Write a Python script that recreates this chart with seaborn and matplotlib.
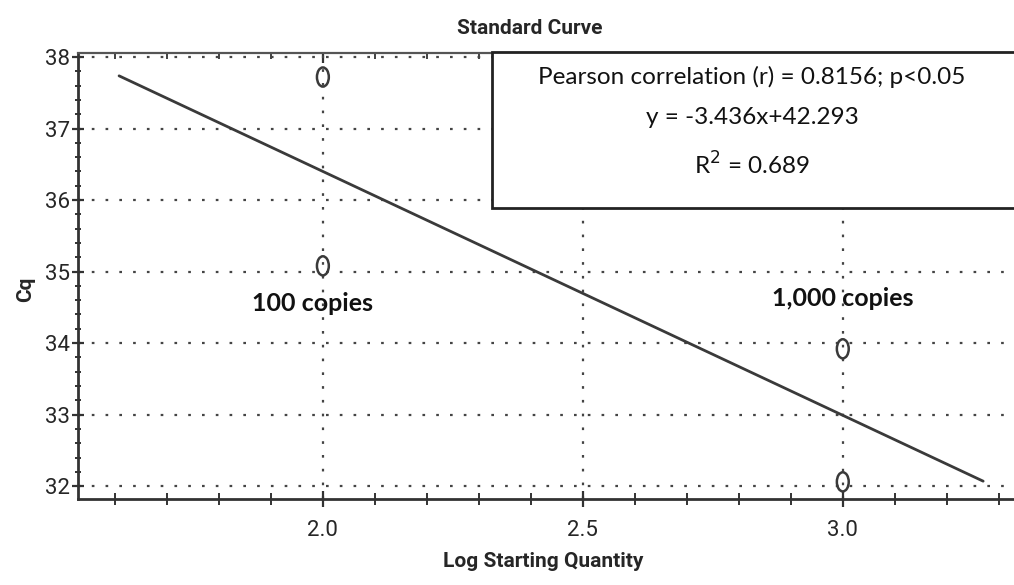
import numpy as np
import pandas as pd
import matplotlib
matplotlib.use("Agg")
import matplotlib.pyplot as plt
from matplotlib.path import Path
from matplotlib.patches import Rectangle
from matplotlib.ticker import MultipleLocator
import seaborn as sns

# Standard curve samples: log10 starting quantity vs. quantification cycle
log_quantity = [2.0, 2.0, 3.0, 3.0]
cq_values = [37.72, 35.08, 33.92, 32.06]
fit_x_range = [1.608, 3.27]

stats_lines = [
    "Pearson correlation (r) = 0.8156; p<0.05",
    "y = -3.436x+42.293",
    r"R$^{2}$ = 0.689",
]
group_labels = ["100 copies", "1,000 copies"]
group_label_x = [1.98, 3.0]
group_label_y = [34.55, 34.63]

sns.set_theme(style="white")
narrow = ["Liberation Sans Narrow", "Roboto", "DejaVu Sans"]
body = ["Lato", "DejaVu Sans"]
plt.rcParams["font.family"] = narrow

df = pd.DataFrame({"LogQty": log_quantity, "Cq": cq_values})

# least-squares fit through the samples
slope, intercept = np.polyfit(df["LogQty"], df["Cq"], 1)
fit_df = pd.DataFrame({"LogQty": fit_x_range})
fit_df["Cq"] = slope * fit_df["LogQty"] + intercept

fig = plt.figure(figsize=(10.14, 5.85), dpi=100)
ax = fig.add_axes([78 / 1014, 86 / 585, 940 / 1014, 446 / 585])

ax.set_xlim(1.529, 3.337)
ax.set_ylim(31.82, 38.056)

# dotted grid at the major ticks
ax.xaxis.set_major_locator(MultipleLocator(0.5))
ax.xaxis.set_minor_locator(MultipleLocator(0.1))
ax.yaxis.set_major_locator(MultipleLocator(1))
ax.yaxis.set_minor_locator(MultipleLocator(0.2))
ax.grid(True, which="major", color="#444444", linestyle=(0, (1.2, 5)), linewidth=1.6)
ax.set_axisbelow(True)

sns.lineplot(data=fit_df, x="LogQty", y="Cq", ax=ax, color="#3a3a3a",
             linewidth=2.0, zorder=3)

# tall oval marker
circ = Path.unit_circle()
oval = Path(circ.vertices * np.array([0.62, 1.0]), circ.codes)
sns.scatterplot(data=df, x="LogQty", y="Cq", ax=ax, marker=oval, s=190,
                facecolor="none", edgecolor="#3a3a3a", linewidth=1.8, zorder=4)

ax.set_xticks([2.0, 2.5, 3.0])
ax.set_xticklabels(["2.0", "2.5", "3.0"])
ax.set_yticks([32, 33, 34, 35, 36, 37, 38])

for side in ["left", "bottom"]:
    ax.spines[side].set_color("#333333")
    ax.spines[side].set_linewidth(2.0)
ax.spines["top"].set_color("#555555")
ax.spines["top"].set_linewidth(1.6)
ax.spines["right"].set_visible(False)

ax.tick_params(axis="x", which="major", direction="inout", length=12, width=1.6,
               color="#333333", bottom=True, top=False, labelsize=16, pad=9)
ax.tick_params(axis="x", which="minor", direction="inout", length=8, width=1.4,
               color="#333333", bottom=True, top=False)
ax.tick_params(axis="y", which="major", direction="inout", length=8, width=1.6,
               color="#333333", left=True, labelsize=16, pad=2)
ax.tick_params(axis="y", which="minor", direction="inout", length=5, width=1.4,
               color="#333333", left=True)

# short inward ticks along the top edge
top = ax.secondary_xaxis("top")
top.xaxis.set_major_locator(MultipleLocator(0.5))
top.xaxis.set_minor_locator(MultipleLocator(0.1))
top.tick_params(which="major", direction="in", length=7, width=1.6,
                color="#333333", labeltop=False)
top.tick_params(which="minor", direction="in", length=4, width=1.3,
                color="#333333")
top.spines["top"].set_visible(False)

ax.set_xlabel("Log Starting Quantity", fontsize=15, fontweight="bold", labelpad=14)
ax.set_ylabel("Cq", fontsize=15, fontweight="bold", labelpad=14)
ax.xaxis.set_label_coords((543 - 78) / 940, -0.118)
ax.yaxis.set_label_coords(-0.046, 0.47)
fig.text(530 / 1014, 1 - 28 / 585, "Standard Curve", fontsize=15,
         fontweight="bold", ha="center", va="center")

# statistics box in the upper right
box = Rectangle((0.4405, 0.652), 0.6, 0.35, transform=ax.transAxes,
                facecolor="white", edgecolor="#222222", linewidth=2.0,
                zorder=6, clip_on=False)
ax.add_patch(box)
box_y = [0.946, 0.856, 0.75]
for line, yy in zip(stats_lines, box_y):
    ax.text(0.717, yy, line, transform=ax.transAxes, ha="center", va="center",
            fontsize=17.5, family=body, color="#111111", zorder=7)

for lbl, lx, ly in zip(group_labels, group_label_x, group_label_y):
    ax.text(lx, ly, lbl, ha="center", va="center", fontsize=18,
            fontweight="bold", family=body, color="#111111", zorder=5)

fig.savefig("out.png", dpi=100, facecolor="white")
